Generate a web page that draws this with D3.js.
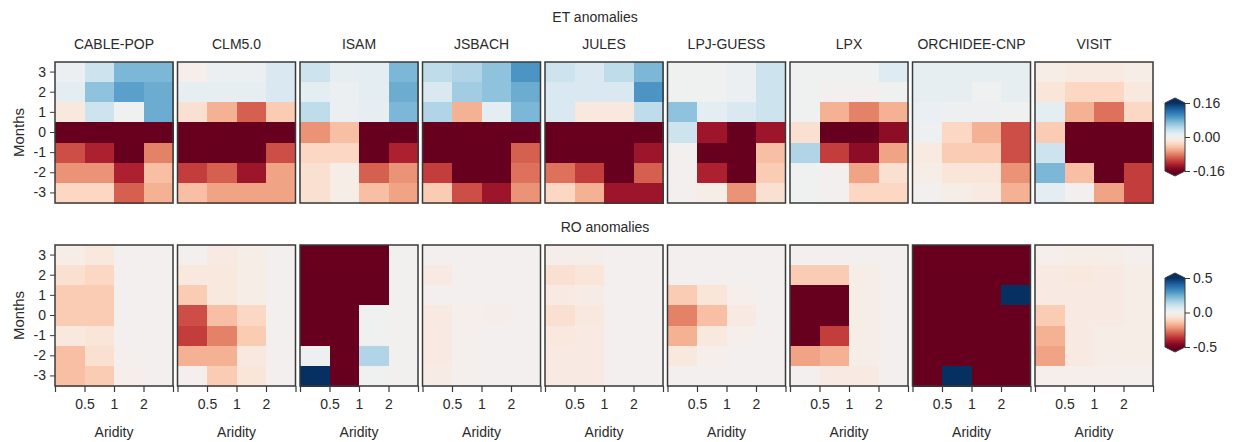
<!DOCTYPE html>
<html>
<head>
<meta charset="utf-8">
<script src="https://cdn.jsdelivr.net/npm/d3@7"></script>
<style>
  html, body { margin: 0; padding: 0; background: #fff; }
  svg { display: block; font-family: "Liberation Sans", Arial, sans-serif; }
</style>
</head>
<body>
<svg id="chart" width="1239" height="442"></svg>
<script>
// ---------------- data ----------------
const models = ["CABLE-POP","CLM5.0","ISAM","JSBACH","JULES","LPJ-GUESS","LPX","ORCHIDEE-CNP","VISIT"];
const months = [3, 2, 1, 0, -1, -2, -3];
const aridityBins = ["<0.5", "0.5-1", "1-2", ">2"];
const aridityTickLabels = ["", "0.5", "1", "2", ""];
const etTicks = [-0.16, 0, 0.16];
const roTicks = [-0.5, 0, 0.5];

// ET anomalies (rows = months 3..-3, cols = aridity bins)
const etCablePop = [
  [0.008, 0.032, 0.072, 0.072],
  [0.016, 0.064, 0.088, 0.080],
  [-0.016, 0.032, 0.003, 0.080],
  [-0.19, -0.19, -0.19, -0.19],
  [-0.104, -0.128, -0.176, -0.080],
  [-0.072, -0.072, -0.128, -0.048],
  [-0.032, -0.032, -0.096, -0.056]];
const etClm50 = [
  [-0.005, 0.008, 0.008, 0.024],
  [0.013, 0.013, 0.013, 0.024],
  [-0.024, -0.056, -0.096, -0.040],
  [-0.19, -0.19, -0.19, -0.19],
  [-0.19, -0.19, -0.19, -0.104],
  [-0.112, -0.096, -0.136, -0.064],
  [-0.048, -0.064, -0.064, -0.064]];
const etIsam = [
  [0.032, 0.013, 0.016, 0.072],
  [0.016, 0.008, 0.016, 0.080],
  [0.040, 0.008, 0.013, 0.072],
  [-0.072, -0.048, -0.19, -0.19],
  [-0.032, -0.032, -0.19, -0.128],
  [-0.024, -0.008, -0.096, -0.072],
  [-0.024, -0.008, -0.048, -0.064]];
const etJsbach = [
  [0.040, 0.048, 0.064, 0.096],
  [0.024, 0.056, 0.064, 0.080],
  [0.048, -0.056, 0.016, 0.072],
  [-0.19, -0.19, -0.19, -0.19],
  [-0.19, -0.19, -0.19, -0.096],
  [-0.112, -0.19, -0.19, -0.088],
  [-0.040, -0.104, -0.136, -0.072]];
const etJules = [
  [0.032, 0.024, 0.040, 0.072],
  [0.024, 0.024, 0.024, 0.096],
  [0.024, -0.016, -0.016, 0.040],
  [-0.19, -0.19, -0.19, -0.19],
  [-0.19, -0.19, -0.19, -0.136],
  [-0.088, -0.112, -0.19, -0.096],
  [-0.032, -0.056, -0.136, -0.136]];
const etLpjGuess = [
  [0.003, 0.003, 0.008, 0.032],
  [0.003, 0.003, 0.008, 0.032],
  [0.064, 0.016, 0.024, 0.032],
  [0.032, -0.136, -0.176, -0.136],
  [0.000, -0.184, -0.184, -0.048],
  [0.000, -0.128, -0.160, -0.040],
  [0.000, -0.008, -0.072, -0.024]];
const etLpx = [
  [0.003, 0.003, 0.003, 0.019],
  [0.003, 0.000, 0.000, 0.003],
  [0.003, -0.056, -0.080, -0.056],
  [-0.024, -0.19, -0.19, -0.144],
  [0.048, -0.112, -0.144, -0.064],
  [0.003, 0.000, -0.064, -0.024],
  [0.003, 0.000, -0.032, -0.032]];
const etOrchidee = [
  [0.013, 0.013, 0.013, 0.013],
  [0.013, 0.013, 0.003, 0.013],
  [0.010, 0.006, 0.006, 0.003],
  [0.006, -0.032, -0.056, -0.104],
  [-0.013, -0.040, -0.040, -0.104],
  [-0.008, -0.019, -0.019, -0.072],
  [0.000, -0.008, -0.013, -0.056]];
const etVisit = [
  [-0.008, -0.013, -0.013, -0.008],
  [-0.019, -0.032, -0.032, -0.016],
  [0.016, -0.056, -0.088, -0.032],
  [-0.040, -0.19, -0.19, -0.19],
  [0.032, -0.19, -0.19, -0.168],
  [0.072, -0.048, -0.160, -0.112],
  [0.016, 0.000, -0.064, -0.112]];

// RO anomalies
const roCablePop = [
  [-0.025, -0.05, 0, 0],
  [-0.075, -0.10, 0, 0],
  [-0.125, -0.125, 0, 0],
  [-0.125, -0.125, 0, 0],
  [-0.05, -0.06, 0, 0],
  [-0.15, -0.075, -0.01, 0],
  [-0.15, -0.125, -0.015, 0]];
const roClm50 = [
  [0, -0.04, -0.025, 0],
  [-0.05, -0.05, -0.025, 0],
  [-0.125, -0.05, -0.025, 0],
  [-0.325, -0.15, -0.10, 0],
  [-0.35, -0.25, -0.125, 0],
  [-0.175, -0.175, -0.05, 0],
  [-0.01, -0.125, -0.06, 0]];
const roIsam = [
  [-0.6, -0.6, -0.6, 0.005],
  [-0.6, -0.6, -0.6, 0.005],
  [-0.6, -0.6, -0.6, 0.005],
  [-0.6, -0.6, 0.01, 0.005],
  [-0.6, -0.6, 0.01, 0.005],
  [0.02, -0.6, 0.15, 0.005],
  [0.6, -0.6, 0.01, 0.005]];
const roJsbach = [
  [0, 0, 0, 0],
  [-0.04, 0, 0, 0],
  [0, 0, 0, 0],
  [-0.04, -0.015, -0.02, 0],
  [-0.04, -0.01, 0, 0],
  [-0.04, -0.01, 0, 0],
  [-0.03, -0.01, 0, 0]];
const roJules = [
  [-0.02, -0.02, 0, 0],
  [-0.075, -0.06, 0, 0],
  [-0.04, -0.03, 0, 0],
  [-0.075, -0.05, 0, 0],
  [-0.05, -0.04, 0, 0],
  [-0.04, -0.04, 0, 0],
  [-0.04, -0.04, 0, 0]];
const roLpjGuess = [
  [0, 0, 0, 0],
  [0, 0, 0, 0],
  [-0.125, -0.06, -0.015, 0],
  [-0.25, -0.15, -0.04, 0],
  [-0.175, -0.05, -0.015, 0],
  [-0.05, -0.015, 0, 0],
  [0, 0, 0, 0]];
const roLpx = [
  [0, 0, 0, 0],
  [-0.125, -0.125, -0.025, 0],
  [-0.6, -0.55, -0.025, 0],
  [-0.6, -0.6, -0.025, 0],
  [-0.6, -0.35, -0.025, 0],
  [-0.2, -0.175, -0.025, 0],
  [0, -0.04, -0.04, 0]];
const roOrchidee = [
  [-0.6, -0.6, -0.6, -0.6],
  [-0.6, -0.6, -0.6, -0.6],
  [-0.6, -0.6, -0.6, 0.6],
  [-0.6, -0.6, -0.6, -0.6],
  [-0.6, -0.6, -0.6, -0.6],
  [-0.6, -0.6, -0.6, -0.6],
  [-0.6, 0.6, -0.6, -0.6]];
const roVisit = [
  [-0.015, -0.025, -0.025, -0.01],
  [-0.04, -0.05, -0.04, -0.025],
  [-0.04, -0.04, -0.04, -0.025],
  [-0.125, -0.04, -0.04, -0.025],
  [-0.175, -0.04, -0.025, -0.025],
  [-0.2, -0.04, -0.025, -0.025],
  [-0.015, -0.015, -0.015, -0.01]];

const etData = [etCablePop, etClm50, etIsam, etJsbach, etJules, etLpjGuess, etLpx, etOrchidee, etVisit];
const roData = [roCablePop, roClm50, roIsam, roJsbach, roJules, roLpjGuess, roLpx, roOrchidee, roVisit];

// ---------------- layout ----------------
const svg = d3.select("#chart");
const textColor = "#2a2a2a";
const frameColor = "#3a3a3a";
const panelX0 = 55, panelStep = 122.5, panelW = 118, panelH = 141;

const rowsSpec = [
  { title: "ET anomalies", titleX: 595, titleY: 22, top: 62, data: etData, vmax: 0.16, ticks: etTicks, fmt: d3.format(".2f"), showX: false, showNames: true,
    cb: { top: 103, bottom: 171 } },
  { title: "RO anomalies", titleX: 605, titleY: 232, top: 245, data: roData, vmax: 0.5, ticks: roTicks, fmt: d3.format(".1f"), showX: true, showNames: false,
    cb: { top: 278, bottom: 347 } }
];

const fmtMinus = f => v => f(v).replace("\u2212", "-");

rowsSpec.forEach((spec, ri) => {
  const color = d3.scaleDiverging(d3.interpolateRdBu).domain([-spec.vmax, 0, spec.vmax]).clamp(true);

  svg.append("text")
    .attr("x", spec.titleX).attr("y", spec.titleY)
    .attr("text-anchor", "middle").attr("font-size", 14).attr("fill", textColor)
    .text(spec.title);

  const y = d3.scaleBand().domain(months).range([spec.top, spec.top + panelH]);

  models.forEach((m, mi) => {
    const x0 = panelX0 + mi * panelStep;
    const xb = d3.scaleBand().domain(aridityBins).range([x0, x0 + panelW]);
    const g = svg.append("g");
    const cells = [];
    spec.data[mi].forEach((row, r) => row.forEach((v, c) => cells.push({ month: months[r], bin: aridityBins[c], v })));
    g.selectAll("rect.cell").data(cells).join("rect")
      .attr("class", "cell")
      .attr("x", d => xb(d.bin)).attr("y", d => y(d.month))
      .attr("width", xb.bandwidth() + 0.6).attr("height", y.bandwidth() + 0.6)
      .attr("shape-rendering", "crispEdges")
      .attr("fill", d => color(d.v));
    g.append("rect")
      .attr("x", x0).attr("y", spec.top).attr("width", panelW).attr("height", panelH)
      .attr("fill", "none").attr("stroke", frameColor).attr("stroke-width", 1.5);

    if (spec.showNames) {
      svg.append("text")
        .attr("x", x0 + panelW / 2).attr("y", 49)
        .attr("text-anchor", "middle").attr("font-size", 14).attr("fill", textColor)
        .text(m);
    }
    if (mi === 0) {
      const ya = svg.append("g").attr("transform", `translate(${x0},0)`)
        .call(d3.axisLeft(y).tickSize(5).tickPadding(4).tickFormat(d => String(d)));
      ya.select(".domain").remove();
      ya.selectAll("line").attr("stroke", frameColor);
      ya.selectAll("text").attr("font-size", 14).attr("fill", textColor).attr("font-family", null);
      svg.append("text")
        .attr("transform", `translate(24,${spec.top + panelH / 2}) rotate(-90)`)
        .attr("text-anchor", "middle").attr("font-size", 15).attr("fill", textColor)
        .text("Months");
    }
    if (spec.showX) {
      const xl = d3.scaleLinear().domain([0, aridityBins.length]).range([x0, x0 + panelW]);
      const xa = svg.append("g").attr("transform", `translate(0,${spec.top + panelH})`)
        .call(d3.axisBottom(xl).tickValues(d3.range(aridityBins.length + 1)).tickSize(6).tickPadding(7)
          .tickFormat(i => aridityTickLabels[i]));
      xa.select(".domain").remove();
      xa.selectAll("line").attr("stroke", frameColor).attr("stroke-width", 1.2);
      xa.selectAll("text").attr("font-size", 14).attr("fill", textColor).attr("font-family", null);
      svg.append("text")
        .attr("x", x0 + panelW / 2).attr("y", 437)
        .attr("text-anchor", "middle").attr("font-size", 14).attr("fill", textColor)
        .text("Aridity");
    }
  });

  // colorbar
  const cbX = 1165, cbW = 20, tri = 5;
  const cy = d3.scaleLinear().domain([-spec.vmax, spec.vmax]).range([spec.cb.bottom, spec.cb.top]);
  const gid = "grad" + ri;
  const grad = svg.append("defs").append("linearGradient").attr("id", gid)
    .attr("x1", 0).attr("y1", 1).attr("x2", 0).attr("y2", 0);
  d3.range(0, 1.0001, 0.05).forEach(t => {
    grad.append("stop").attr("offset", t).attr("stop-color", color(-spec.vmax + 2 * spec.vmax * t));
  });
  const cbTop = cy(spec.vmax), cbBot = cy(-spec.vmax);
  svg.append("path")
    .attr("d", `M${cbX},${cbTop} L${cbX + cbW / 2},${cbTop - tri} L${cbX + cbW},${cbTop} Z`)
    .attr("fill", d3.interpolateRdBu(1));
  svg.append("path")
    .attr("d", `M${cbX},${cbBot} L${cbX + cbW / 2},${cbBot + tri} L${cbX + cbW},${cbBot} Z`)
    .attr("fill", d3.interpolateRdBu(0));
  svg.append("rect").attr("x", cbX).attr("y", cbTop).attr("width", cbW).attr("height", cbBot - cbTop)
    .attr("fill", `url(#${gid})`);
  svg.append("path")
    .attr("d", `M${cbX},${cbTop} L${cbX + cbW / 2},${cbTop - tri} L${cbX + cbW},${cbTop} L${cbX + cbW},${cbBot} L${cbX + cbW / 2},${cbBot + tri} L${cbX},${cbBot} Z`)
    .attr("fill", "none").attr("stroke", frameColor).attr("stroke-width", 1);
  const ca = svg.append("g").attr("transform", `translate(${cbX + cbW},0)`)
    .call(d3.axisRight(cy).tickValues(spec.ticks).tickSize(5).tickPadding(3).tickFormat(fmtMinus(spec.fmt)));
  ca.select(".domain").remove();
  ca.selectAll("line").attr("stroke", frameColor);
  ca.selectAll("text").attr("font-size", 14).attr("fill", textColor).attr("font-family", null);
});
</script>
</body>
</html>
